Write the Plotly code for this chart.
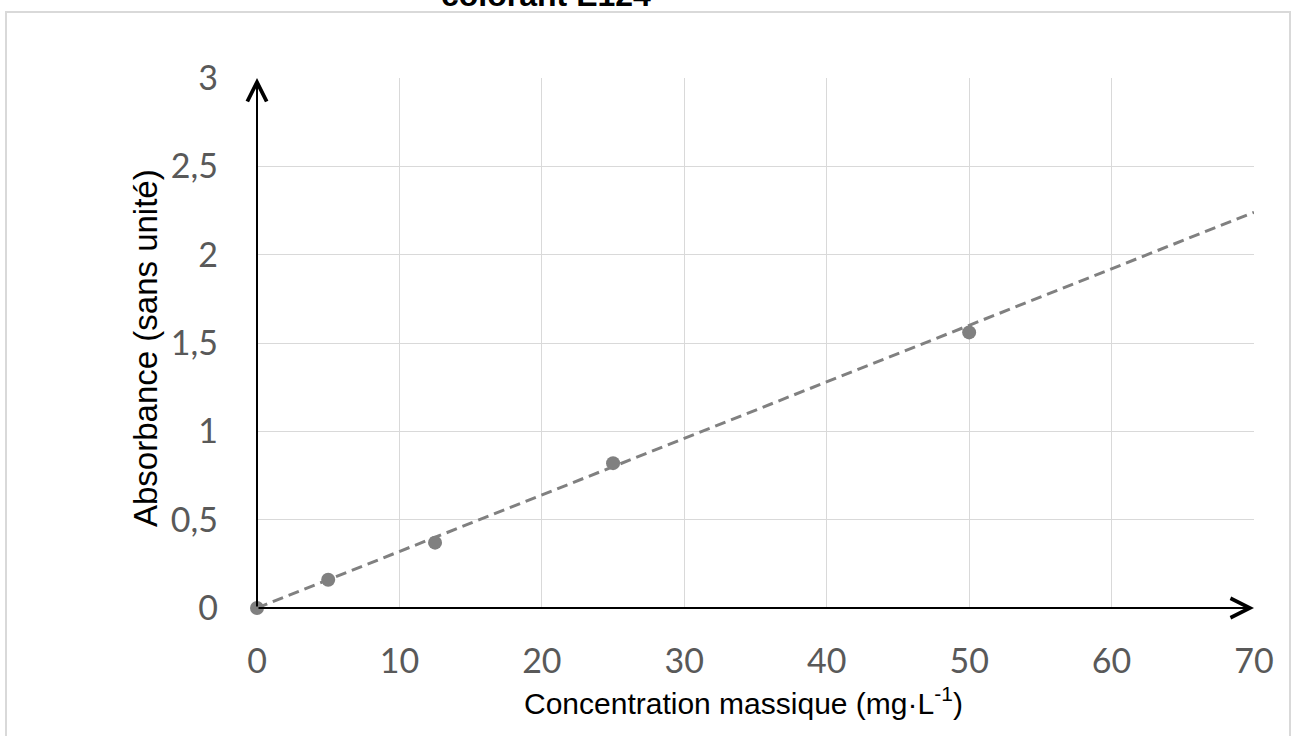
import plotly.graph_objects as go

# Data
concentration = [0, 5, 12.5, 25, 50]          # mg/L
absorbance = [0.0, 0.16, 0.37, 0.82, 1.56]
x_ticks = [0, 10, 20, 30, 40, 50, 60, 70]
y_ticks = [0, 0.5, 1, 1.5, 2, 2.5, 3]
x_range = [0, 70]
y_range = [0, 3]

# linear trend line (through origin), slope
trend_slope = 0.0320
trend_x = [x_range[0], x_range[1]]
trend_y = [trend_slope * v for v in trend_x]

GRAY = "#808080"

fig = go.Figure()
fig.add_trace(go.Scatter(
    x=trend_x, y=trend_y, mode="lines",
    line=dict(color=GRAY, width=3, dash="11px,6px"),
    hoverinfo="skip", showlegend=False, cliponaxis=False))
fig.add_trace(go.Scatter(
    x=concentration, y=absorbance, mode="markers",
    marker=dict(color=GRAY, size=14),
    showlegend=False, cliponaxis=False))

W, H = 1292, 736
# plot area in screen pixels: x 257..1254, y 78..608
L, R, T, B = 257, W - 1254, 78, H - 608
pw, ph = W - L - R, H - T - B

def px_x(p):
    return (p - L) / pw

def px_y(p):
    return (H - B - p) / ph

fig.update_layout(
    width=W, height=H,
    margin=dict(l=L, r=R, t=T, b=B),
    paper_bgcolor="white", plot_bgcolor="white",
    separators=", ",
    font=dict(family="Lato", color="#595959"),
    xaxis=dict(range=x_range, tickvals=x_ticks, showgrid=True,
               gridcolor="#d9d9d9", gridwidth=1.3, zeroline=False,
               showline=False, ticks="", ticklabelstandoff=30,
               tickfont=dict(family="Lato", size=34, color="#595959")),
    yaxis=dict(range=y_range, tickvals=y_ticks, showgrid=True,
               gridcolor="#d9d9d9", gridwidth=1.3, zeroline=False,
               showline=False, ticks="", ticklabelstandoff=38,
               tickfont=dict(family="Lato", size=34, color="#595959")),
)

# axes drawn as arrows
fig.add_annotation(x=x_range[1], y=0, ax=0, ay=0, xref="x", yref="y",
                   axref="x", ayref="y", text="", showarrow=True,
                   arrowhead=5, arrowsize=1.9, arrowwidth=2, arrowcolor="black")
fig.add_annotation(x=0, y=y_range[1], ax=0, ay=0, xref="x", yref="y",
                   axref="x", ayref="y", text="", showarrow=True,
                   arrowhead=5, arrowsize=1.9, arrowwidth=2, arrowcolor="black")

# axis titles
fig.add_annotation(x=px_x(743), y=px_y(701), xref="paper", yref="paper",
                   text="Concentration massique (mg·L<sup>-1</sup>)",
                   showarrow=False, xanchor="center", yanchor="middle",
                   font=dict(family="Liberation Sans, Arial", size=30, color="black"))
fig.add_annotation(x=px_x(145), y=px_y(348), xref="paper", yref="paper",
                   text="Absorbance (sans unité)", textangle=-90,
                   showarrow=False, xanchor="center", yanchor="middle",
                   font=dict(family="Liberation Sans, Arial", size=33, color="black"))

# title (mostly cut off at top of the picture)
fig.add_annotation(x=px_x(546), y=px_y(15), xref="paper", yref="paper",
                   text="<b>colorant E124</b>", showarrow=False,
                   xanchor="center", yanchor="bottom",
                   font=dict(family="Liberation Sans, Arial", size=32, color="black"))

# chart-area border
fig.add_shape(type="rect", xref="paper", yref="paper",
              x0=px_x(6), x1=px_x(1290), y0=px_y(760), y1=px_y(12),
              line=dict(color="#d9d9d9", width=2), fillcolor="rgba(0,0,0,0)",
              layer="below")

fig.write_html(
    "out.html",
    config={"displayModeBar": False},
    post_script="document.body.style.margin='0';"
                "document.documentElement.style.overflow='hidden';",
)
